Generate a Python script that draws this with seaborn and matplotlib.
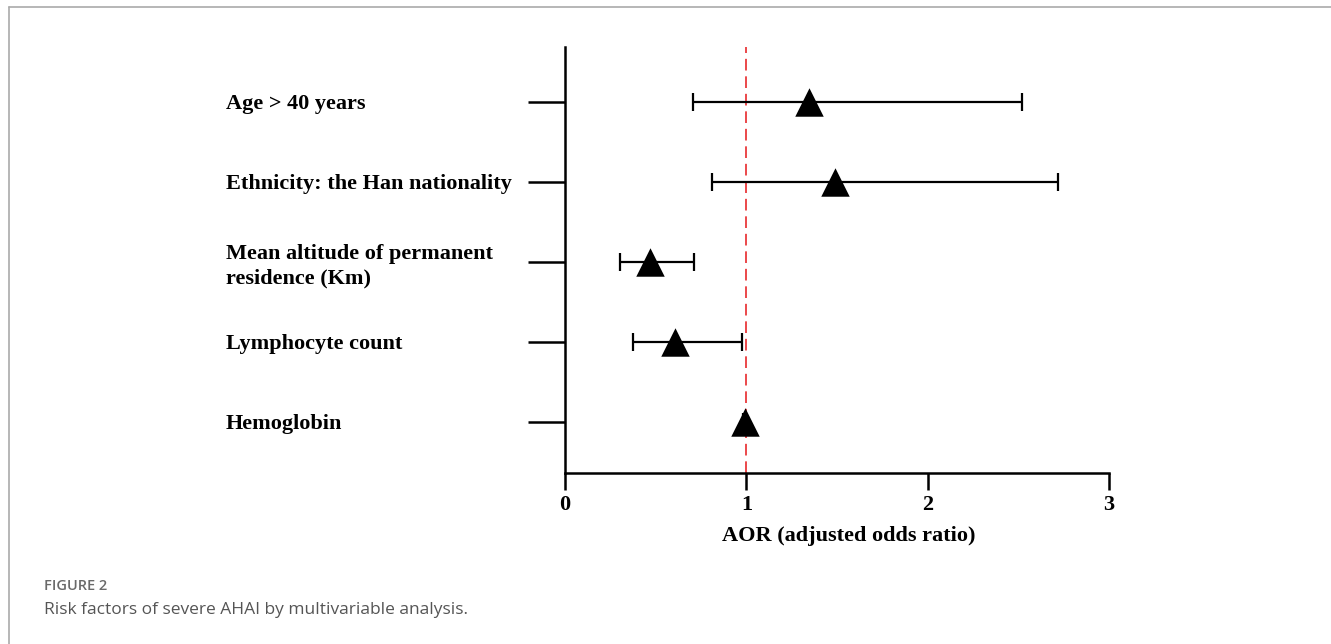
import matplotlib
matplotlib.use("Agg")
import matplotlib.pyplot as plt
import seaborn as sns
import pandas as pd
from matplotlib.lines import Line2D

# ---- data ----
factors = [
    "Age > 40 years",
    "Ethnicity: the Han nationality",
    "Mean altitude of permanent\nresidence (Km)",
    "Lymphocyte count",
    "Hemoglobin",
]
aor = [1.345, 1.49, 0.468, 0.606, 0.99]
ci_low = [0.705, 0.81, 0.306, 0.376, 0.98]
ci_high = [2.52, 2.72, 0.71, 0.975, 1.00]
x_ticks = [0, 1, 2, 3]
x_label = "AOR (adjusted odds ratio)"
fig_label = "FIGURE 2"
caption = "Risk factors of severe AHAI by multivariable analysis."

df = pd.DataFrame({"factor": factors, "aor": aor, "lo": ci_low, "hi": ci_high})
df["pos"] = range(len(df))

sns.set_theme(style="white")
plt.rcParams["font.family"] = ["Liberation Serif", "DejaVu Serif"]
plt.rcParams["text.color"] = "black"
plt.rcParams["xtick.color"] = "black"
plt.rcParams["ytick.color"] = "black"
plt.rcParams["axes.labelcolor"] = "black"

FS = 16

fig = plt.figure(figsize=(13.31, 6.44), dpi=100)
ax = fig.add_axes([565 / 1331, 1 - 473 / 644, (1109 - 565) / 1331, (473 - 47) / 644])

# reference line at 1
ax.axvline(1, color="#e8292b", lw=1.2, ls=(0, (7, 3.5)), zorder=1)

# CIs
ax.errorbar(df["aor"], df["pos"],
            xerr=[df["aor"] - df["lo"], df["hi"] - df["aor"]],
            fmt="none", ecolor="black", elinewidth=1.6, capsize=6.5, capthick=1.6, zorder=2)

# points
sns.scatterplot(data=df, x="aor", y="pos", marker="^", s=420, color="black",
                edgecolor="black", linewidth=0, ax=ax, zorder=3, legend=False)

ax.set_xlim(0, 3)
ax.set_ylim(4.6375, -0.6875)
ax.set_xticks(x_ticks)
ax.set_xticklabels([str(t) for t in x_ticks], fontsize=FS, fontweight="bold", color="black")
ax.set_yticks(df["pos"])
ax.set_yticklabels(df["factor"], fontsize=FS, fontweight="bold", ha="left",
                   linespacing=1.25, color="black")

for s in ["top", "right"]:
    ax.spines[s].set_visible(False)
for s in ["left", "bottom"]:
    ax.spines[s].set_color("black")
    ax.spines[s].set_linewidth(1.8)

ax.tick_params(axis="x", direction="out", length=12, width=1.8, color="black", pad=4,
               bottom=True)
ax.tick_params(axis="y", direction="out", length=27, width=1.8, color="black",
               left=True, pad=(565 - 226) * 0.72 - 27)

ax.set_xlabel(x_label, fontsize=FS, fontweight="bold", color="black")
ax.xaxis.set_label_coords((849 - 565) / 544, (473 - 526) / 426)
ax.set_ylabel("")
ax.grid(False)

# frame lines of the figure panel
fig.add_artist(Line2D([9 / 1331, 9 / 1331], [0, 1 - 7 / 644], transform=fig.transFigure,
                      color="#aaaaaa", lw=1.2))
fig.add_artist(Line2D([9 / 1331, 1], [1 - 7 / 644, 1 - 7 / 644], transform=fig.transFigure,
                      color="#aaaaaa", lw=1.2))

fig.text(44 / 1331, 1 - 586 / 644, fig_label, family=["Open Sans", "DejaVu Sans"],
         fontsize=10.5, color="#6a6a6a", va="center", ha="left", fontweight="semibold")
fig.text(44 / 1331, 1 - 610 / 644, caption, family=["Open Sans", "DejaVu Sans"],
         fontsize=12.5, color="#555555", va="center", ha="left")

fig.savefig("out.png", dpi=100)
